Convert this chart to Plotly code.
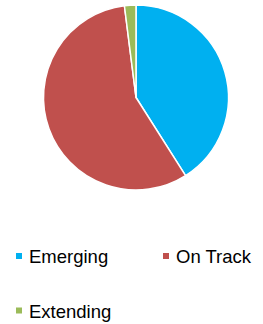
import plotly.graph_objects as go

categories = ["Emerging", "On Track", "Extending"]
values = [41, 57, 2]
colors = ["#00B0F0", "#C0504D", "#9BBB59"]

W, H = 263, 324

def px(x):
    return x / W

def py(y):
    return 1 - y / H

fig = go.Figure(go.Pie(
    labels=categories, values=values, sort=False, direction="clockwise", rotation=0,
    marker=dict(colors=colors, line=dict(color="white", width=1.5)),
    textinfo="none", hoverinfo="label+percent",
    domain=dict(x=[px(43), px(229)], y=[py(190), py(5)]),
    showlegend=False,
))

legend_pos = [(16, 256), (163, 256), (16, 310.5)]
shapes, annotations = [], []
for cat, col, (mx, my) in zip(categories, colors, legend_pos):
    shapes.append(dict(type="rect", xref="paper", yref="paper",
                       x0=px(mx), x1=px(mx + 6),
                       y0=py(my + 3), y1=py(my - 3),
                       fillcolor=col, line=dict(width=0)))
    annotations.append(dict(text=cat, xref="paper", yref="paper",
                            x=px(mx + 11), y=py(my + 0.5),
                            xanchor="left", yanchor="middle", showarrow=False,
                            font=dict(family="Liberation Sans, Arial", size=18.5, color="#000000")))

fig.update_layout(width=W, height=H, margin=dict(l=0, r=0, t=0, b=0),
                  paper_bgcolor="white", plot_bgcolor="white",
                  shapes=shapes, annotations=annotations)
fig.write_html("out.html", config={"displayModeBar": False},
               post_script="document.body.style.margin='0';")
